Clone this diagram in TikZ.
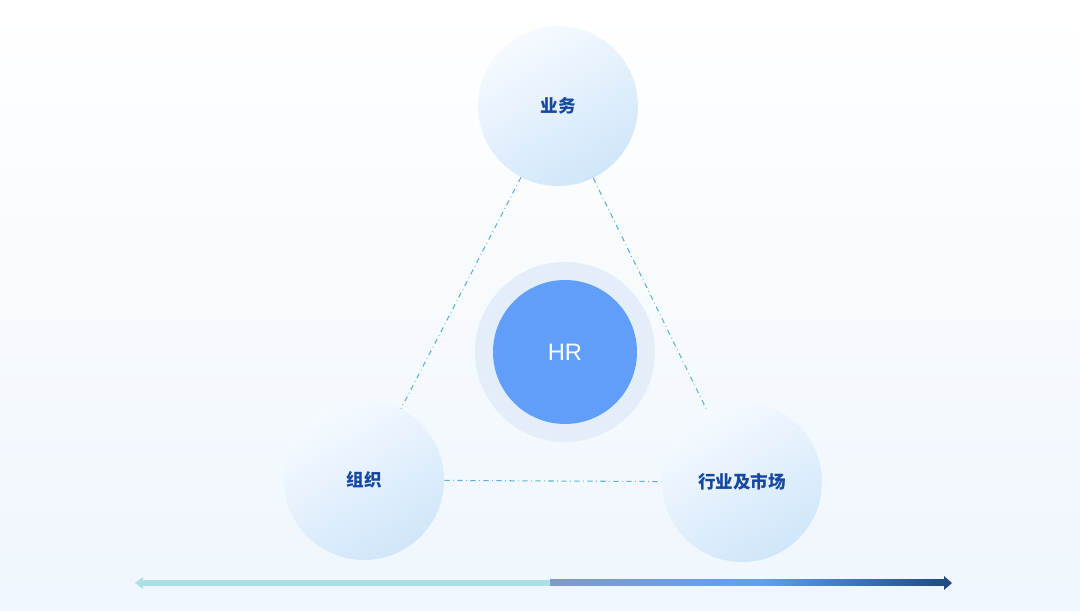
\documentclass[tikz,border=0pt]{standalone}
\usepackage{fontspec}
\newfontfamily\cjk{Noto Sans CJK SC}
\setsansfont{Liberation Sans}
\usetikzlibrary{positioning,shapes}
\definecolor{bgtop}{RGB}{255,255,255}
\definecolor{bgbot}{RGB}{239,246,253}
\definecolor{ballhi}{RGB}{246,250,255}
\definecolor{balllo}{RGB}{208,230,250}
\definecolor{txtblue}{RGB}{22,72,160}
\definecolor{hrblue}{RGB}{96,158,250}
\definecolor{halo}{RGB}{228,238,250}
\definecolor{linkc}{RGB}{90,180,215}
\definecolor{barlight}{RGB}{170,224,230}
\definecolor{bargray}{RGB}{130,155,195}
\definecolor{barmid}{RGB}{96,158,250}
\definecolor{bardark}{RGB}{30,75,130}
\begin{document}
\begin{tikzpicture}[x=0.02cm,y=-0.02cm]
\tikzstyle{ball} = [circle, minimum size=3.2cm, inner sep=0pt, top color=ballhi, bottom color=balllo, shading angle=30, font=\cjk\bfseries\fontsize{10}{12}\selectfont, text=txtblue]
\tikzstyle{link} = [draw=linkc, dash dot, line width=0.6pt]
\useasboundingbox (0,0) rectangle (1080,611);
\shade[top color=bgtop, bottom color=bgbot] (0,0) rectangle (1080,611);
% three topics
\node [ball] (biz) at (558,106) {业务};
\node [ball] (org) at (364,480) {组织};
\node [ball] (mkt) at (742,482) {行业及市场};
% centre
\fill [halo] (565,352) circle (90);
\node [circle, fill=hrblue, minimum size=2.88cm, text=white, font=\sffamily\fontsize{13.5}{15}\selectfont] (hr) at (565,352) {HR};
\draw [link] (biz) -- (org) (biz) -- (mkt) (org) -- (mkt);
% bottom bar
\fill [barlight] (140,580) rectangle (550,586);
\shade [left color=bargray, right color=barmid] (550,580) rectangle (760,586);
\shade [left color=barmid, right color=bardark] (760,580) rectangle (945,586);
\fill [barlight] (143,577) -- (135,583) -- (143,589) -- cycle;
\fill [bardark] (944,576) -- (952,583) -- (944,590) -- cycle;
\end{tikzpicture}
\end{document}
